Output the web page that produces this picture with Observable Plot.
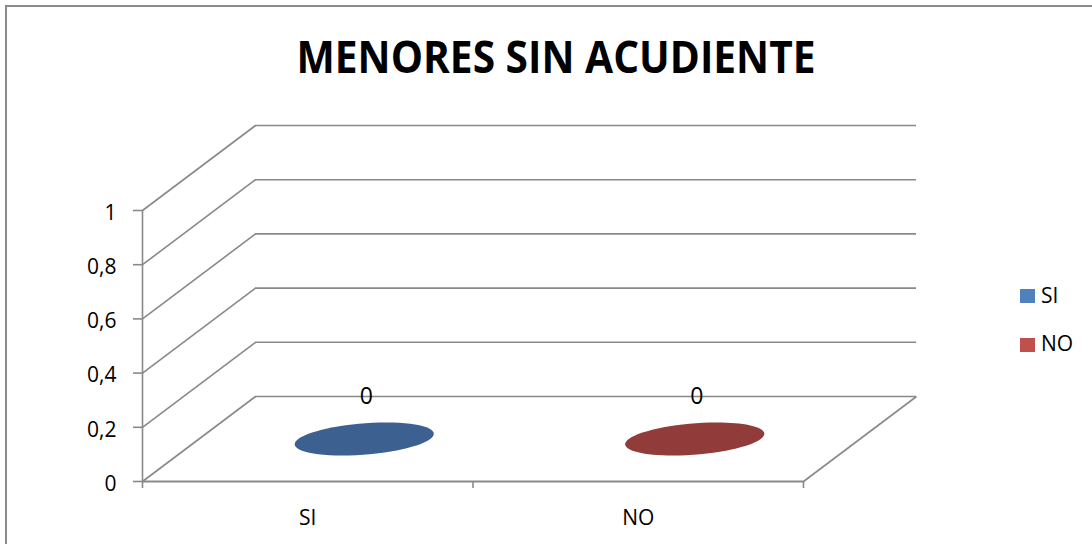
<!DOCTYPE html>
<html><head><meta charset="utf-8">
<script src="https://cdn.jsdelivr.net/npm/d3@7"></script>
<script src="https://cdn.jsdelivr.net/npm/@observablehq/plot@0.6"></script>
<style>
html,body{margin:0;padding:0;background:#fff;overflow:hidden}
#wrap{position:relative;width:1092px;height:544px;overflow:hidden;font-family:"Open Sans",sans-serif}
#border{position:absolute;left:5px;top:5px;width:1200px;height:700px;border:2px solid #8a8a8a;box-sizing:border-box}
#chart{position:absolute;left:0;top:0}
.lg-sw{position:absolute;width:15px;height:14px}
.lg-tx{position:absolute;font-size:21px;line-height:21px;color:#000;white-space:nowrap}
</style></head><body>
<div id="wrap"><div id="border"></div><div id="chart"></div></div>
<script>
// ---- data ----
const title = "MENORES SIN ACUDIENTE";
const categories = ["SI", "NO"];
const values = [0, 0];
const legendColors = ["#4F81BD", "#C0504D"];
const topColors = ["#3C6190", "#913B3B"];
const yTicks = [0, 0.2, 0.4, 0.6, 0.8, 1];

// ---- layout constants (oblique 3D depth, in data units) ----
const DX = 113 / 330.5;   // depth shift along x (category units)
const DY = 85 / 271;      // depth shift along y (value units)
const GRID = "#898989";

const rows = categories.map((c, i) => ({category: c, value: values[i], index: i, color: topColors[i]}));
const bounds = d3.range(categories.length + 1);
const centers = categories.map((c, i) => ({category: c, pos: i + 0.5}));

// ellipse = top of a zero-height cylinder seen in oblique projection
const cylTop = {
  draw(ctx, size) {
    const R = Math.sqrt(size / Math.PI);
    const a = R, p = R / 3, q = R / 4, k = 0.5523;
    const T = (x, y) => [a * x + p * y, -q * y];
    const segs = [
      [[1, k], [k, 1], [0, 1]],
      [[-k, 1], [-1, k], [-1, 0]],
      [[-1, -k], [-k, -1], [0, -1]],
      [[k, -1], [1, -k], [1, 0]]
    ];
    ctx.moveTo(...T(1, 0));
    for (const [c1, c2, e] of segs) ctx.bezierCurveTo(...T(...c1), ...T(...c2), ...T(...e));
    ctx.closePath();
  }
};

const fmt = d => String(d).replace(".", ",");

const chart = Plot.plot({
  width: 1092,
  height: 544,
  marginLeft: 142,
  marginRight: 123,
  marginTop: 0,
  marginBottom: 63,
  style: {fontFamily: "Open Sans", fontSize: "21px", color: "#000", background: "transparent"},
  x: {type: "linear", domain: [0, categories.length], range: [142, 803], label: null},
  y: {type: "linear", domain: [0, 1], range: [481, 210], label: null},
  color: {type: "identity"},
  marks: [
    // back wall gridlines
    Plot.ruleY(yTicks, {y: d => d + DY, x1: DX, x2: categories.length + DX, stroke: GRID, strokeWidth: 1.6}),
    // side wall diagonals
    Plot.link(yTicks, {x1: 0, y1: d => d, x2: DX, y2: d => d + DY, stroke: GRID, strokeWidth: 1.6}),
    // floor right edge
    Plot.link([0], {x1: categories.length, y1: 0, x2: categories.length + DX, y2: DY, stroke: GRID, strokeWidth: 1.6}),
    // floor front edge / x axis line
    Plot.ruleY([0], {x1: 0, x2: categories.length, stroke: GRID, strokeWidth: 1.8}),
    // y axis line
    Plot.ruleX([0], {y1: 0, y2: 1, stroke: GRID, strokeWidth: 1.6}),
    // axis ticks
    Plot.axisY(yTicks, {tickSize: 9, text: null, label: null, stroke: GRID, strokeWidth: 1.6}),
    Plot.axisX(bounds, {tickSize: 7, text: null, label: null, stroke: GRID, strokeWidth: 1.6}),
    // tick labels
    Plot.text(yTicks, {x: 0, y: d => d, text: fmt, textAnchor: "end", dx: -26, dy: 2.5, fontSize: 21, fill: "#000"}),
    Plot.text(centers, {x: "pos", y: () => 0, text: "category", dy: 37, fontSize: 21, fill: "#000"}),
    // cylinder tops (value 0)
    Plot.dot(rows, {x: d => d.index + 0.5 + DX / 2, y: d => d.value + DY / 2, r: 66, symbol: cylTop, fill: "color", stroke: "none"}),
    // data labels
    Plot.text(rows, {x: d => d.index + 0.5 + DX / 2, y: d => d.value + DY / 2, text: d => fmt(d.value), dy: -42, dx: 2, fontSize: 23, fill: "#000"}),
    // title
    Plot.text([title], {frameAnchor: "top", dy: 41, fontSize: 44, fontWeight: "bold", fill: "#000", className: "ttl"})
  ]
});
document.getElementById("chart").appendChild(chart);

// compress title to the reference's narrower face
const tt = chart.querySelector(".ttl text");
if (tt) { tt.setAttribute("textLength", 519); tt.setAttribute("lengthAdjust", "spacingAndGlyphs"); }

// legend
const wrap = document.getElementById("wrap");
categories.forEach((c, i) => {
  const cy = 296.3 + i * 48.2;
  const sw = document.createElement("div");
  sw.className = "lg-sw";
  sw.style.left = "1020px"; sw.style.top = (cy - 7) + "px"; sw.style.background = legendColors[i];
  const tx = document.createElement("div");
  tx.className = "lg-tx";
  tx.style.left = "1041px"; tx.style.top = (cy - 11.2) + "px"; tx.textContent = c;
  wrap.appendChild(sw); wrap.appendChild(tx);
});
</script>
</body></html>
